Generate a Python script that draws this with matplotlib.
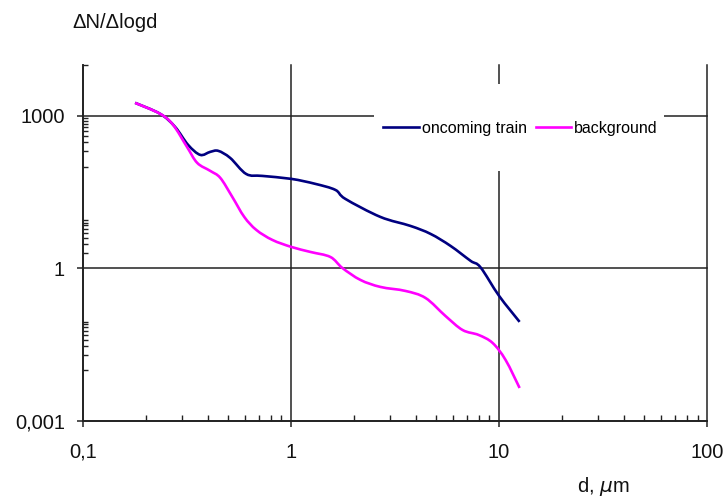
import numpy as np
import matplotlib
matplotlib.use('Agg')
import matplotlib.pyplot as plt
from matplotlib.patches import Rectangle, PathPatch
from matplotlib.path import Path
from matplotlib.lines import Line2D
from matplotlib.ticker import FixedLocator, NullFormatter

plt.rcParams['font.family'] = ['Liberation Sans', 'DejaVu Sans']

# oncoming train: d (um) and dN/dlogd
d_train = [0.178, 0.235, 0.277, 0.320, 0.366, 0.409, 0.447, 0.510, 0.609, 0.727,
           1.003, 1.309, 1.634, 1.825, 2.69, 3.75, 4.69, 5.85, 7.30, 8.15, 10.0, 12.56]
n_train = [1803, 1096, 608, 269, 171, 196, 205, 149, 72, 66,
           57.7, 46, 35, 23.3, 10.3, 6.86, 4.77, 2.77, 1.41, 1.05, 0.29, 0.089]

# background
d_bg = [0.178, 0.235, 0.271, 0.316, 0.354, 0.409, 0.457, 0.522, 0.596, 0.681, 0.813,
        1.003, 1.24, 1.546, 1.766, 2.157, 2.69, 3.55, 4.43, 5.53, 6.68, 7.98, 9.32,
        10.76, 12.56]
n_bg = [1803, 1096, 666, 246, 119, 82.8, 60.4, 25.5, 10.3, 5.72, 3.64,
        2.65, 2.11, 1.68, 1.02, 0.594, 0.433, 0.361, 0.263, 0.116, 0.0616, 0.0492, 0.0342,
        0.0158, 0.00446]

x_ticks = [0.1, 1, 10, 100]
x_labels = ['0,1', '1', '10', '100']
y_ticks = [0.001, 1, 1000]
y_labels = ['0,001', '1', '1000']
y_minor = [100, 200, 300, 400, 500, 600, 700, 800, 900,
           2, 3, 4, 5, 6, 7, 8, 9,
           0.01, 0.02, 0.03, 0.04, 0.05, 0.06, 0.07, 0.08, 0.09, 10000]


def smooth_path(xs, ys):
    # excel style smoothed line: bezier segments through the points (log space)
    lx = np.log10(xs)
    ly = np.log10(ys)
    n = len(lx)
    verts = [(xs[0], ys[0])]
    codes = [Path.MOVETO]
    for i in range(n - 1):
        i0 = max(i - 1, 0)
        i3 = min(i + 2, n - 1)
        c1x = lx[i] + (lx[i + 1] - lx[i0]) / 6.0
        c1y = ly[i] + (ly[i + 1] - ly[i0]) / 6.0
        c2x = lx[i + 1] - (lx[i3] - lx[i]) / 6.0
        c2y = ly[i + 1] - (ly[i3] - ly[i]) / 6.0
        verts += [(10 ** c1x, 10 ** c1y), (10 ** c2x, 10 ** c2y), (xs[i + 1], ys[i + 1])]
        codes += [Path.CURVE4] * 3
    return Path(verts, codes)


fig = plt.figure(figsize=(7.25, 4.97), dpi=100)
ax = fig.add_axes([0.1145, 0.1529, 0.8607, 0.7163])

ax.set_xscale('log')
ax.set_yscale('log')

ax.add_patch(PathPatch(smooth_path(d_train, n_train), fill=False, edgecolor='#000080',
                       lw=1.9, joinstyle='round', capstyle='butt', zorder=3))
ax.add_patch(PathPatch(smooth_path(d_bg, n_bg), fill=False, edgecolor='#FF00FF',
                       lw=1.9, joinstyle='round', capstyle='butt', zorder=3))
ax.set_xlim(0.1, 100)
ax.set_ylim(0.001, 10000)

ax.set_xticks(x_ticks)
ax.set_xticklabels(x_labels)
ax.set_yticks(y_ticks)
ax.set_yticklabels(y_labels)
ax.xaxis.set_minor_locator(FixedLocator([k * 10.0 ** e for e in (-1, 0, 1) for k in range(2, 10)]))
ax.yaxis.set_minor_locator(FixedLocator(y_minor))
ax.xaxis.set_minor_formatter(NullFormatter())
ax.yaxis.set_minor_formatter(NullFormatter())

ax.tick_params(axis='both', which='major', direction='out', length=4.5, width=1.1,
               color='#222222', labelsize=14.5, labelcolor='#111111')
ax.tick_params(axis='x', which='major', pad=11)
ax.tick_params(axis='y', which='major', pad=8.5)
ax.tick_params(axis='x', which='minor', direction='in', length=4.2, width=1.0, color='#222222')
ax.tick_params(axis='y', which='minor', direction='in', length=3.5, width=1.0, color='#222222')

for s in ['top', 'right']:
    ax.spines[s].set_visible(False)
for s in ['left', 'bottom']:
    ax.spines[s].set_linewidth(1.3)
    ax.spines[s].set_color('#222222')

ax.set_axisbelow(True)
ax.grid(True, which='major', color='#222222', lw=1.1)
for t in ax.xaxis.get_major_ticks() + ax.yaxis.get_major_ticks():
    t.gridline.set_clip_on(False)

# white box behind the legend hides the grid
ax.add_patch(Rectangle((0.467, 0.702), 0.464, 0.245, transform=ax.transAxes,
                       facecolor='white', edgecolor='none', zorder=1))
handles = [Line2D([], [], color='#000080', lw=1.9), Line2D([], [], color='#FF00FF', lw=1.9)]
ax.legend(handles, ['oncoming train', 'background'], loc='center left',
          bbox_to_anchor=(0.4815, 0.823), ncol=2, frameon=False,
          fontsize=11.5, handlelength=2.2, handletextpad=0.2, columnspacing=0.55,
          borderpad=0, borderaxespad=0)

fig.text(72 / 725, 1 - 22 / 497, 'ΔN/Δlogd', fontsize=14.5, ha='left', va='center',
         color='#111111')
fig.text(603 / 725, 1 - 487 / 497, 'd, $\\mu$m', fontsize=14.5, ha='center', va='center',
         color='#111111')

fig.savefig('out.png', dpi=100)
